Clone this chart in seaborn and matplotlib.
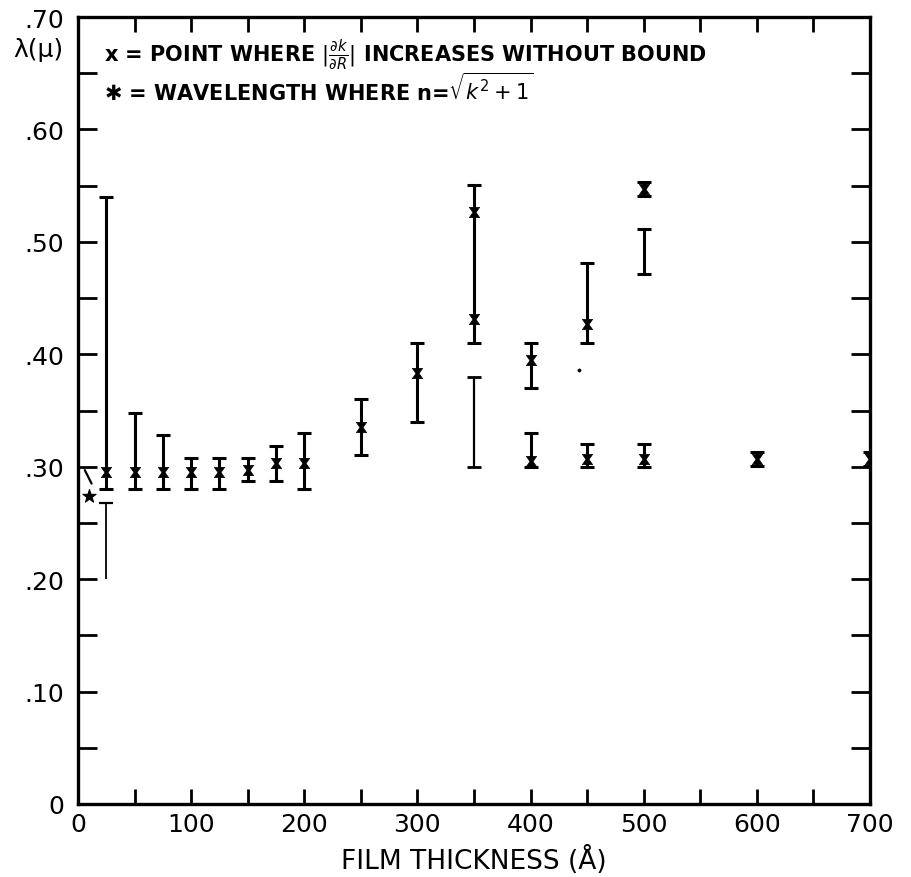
import numpy as np
import pandas as pd
import matplotlib
matplotlib.use("Agg")
import matplotlib.pyplot as plt
from matplotlib.path import Path
import seaborn as sns

# ---- data ----
# points where |dk/dR| increases without bound (x markers)
pt_thick = [25, 50, 75, 100, 125, 150, 175, 200, 250, 300, 350, 350,
            400, 400, 450, 450, 500, 500, 600, 700]
pt_lambda = [0.295, 0.295, 0.295, 0.295, 0.295, 0.297, 0.303, 0.303, 0.335, 0.383,
             0.527, 0.431, 0.395, 0.305, 0.427, 0.307, 0.547, 0.307, 0.307, 0.307]

# error ranges (main bars)
bar_thick = [25, 50, 75, 100, 125, 150, 175, 200, 250, 300, 350,
             400, 400, 450, 450, 500, 500, 500, 600, 700]
bar_low = [0.280, 0.280, 0.280, 0.280, 0.280, 0.287, 0.287, 0.280, 0.310, 0.340, 0.410,
           0.370, 0.300, 0.410, 0.300, 0.471, 0.300, 0.541, 0.301, 0.301]
bar_high = [0.540, 0.348, 0.328, 0.308, 0.308, 0.308, 0.318, 0.330, 0.360, 0.410, 0.551,
            0.410, 0.330, 0.481, 0.320, 0.511, 0.320, 0.553, 0.313, 0.313]

# thin secondary bars
thin_thick = [350]
thin_low = [0.300]
thin_high = [0.380]

# thin bar at 25 Å with top cap only
open_thick = [25]
open_low = [0.200]
open_high = [0.268]

# wavelength where n = sqrt(k^2+1)
star_thick = [10]
star_lambda = [0.274]

# stray dot
dot_thick = [443]
dot_lambda = [0.386]

x_ticks = [0, 100, 200, 300, 400, 500, 600, 700]
y_ticks = [0.0, 0.1, 0.2, 0.3, 0.4, 0.5, 0.6, 0.7]
y_ticklabels = ["0", ".10", ".20", ".30", ".40", ".50", ".60", ".70"]

# ---- figure ----
sns.set_style("ticks")
plt.rcParams['font.family'] = ['DejaVu Sans']
plt.rcParams['text.color'] = 'black'
plt.rcParams['axes.labelcolor'] = 'black'

fig = plt.figure(figsize=(9.11, 8.78), dpi=100)
ax = fig.add_axes([78/911, 1-805/878, (870-78)/911, (805-18)/878])

bars = pd.DataFrame({"t": bar_thick, "lo": bar_low, "hi": bar_high})
ax.errorbar(bars["t"], (bars["lo"] + bars["hi"]) / 2,
            yerr=[(bars["hi"] - bars["lo"]) / 2, (bars["hi"] - bars["lo"]) / 2],
            fmt="none", ecolor="black", elinewidth=2.2, capsize=5, capthick=2.2)
ax.errorbar(thin_thick, [(a + b) / 2 for a, b in zip(thin_low, thin_high)],
            yerr=[[(b - a) / 2 for a, b in zip(thin_low, thin_high)]] * 2,
            fmt="none", ecolor="black", elinewidth=1.6, capsize=5, capthick=2.0)
ax.vlines(open_thick, open_low, open_high, color="black", lw=1.3)
ax.plot(open_thick, open_high, marker="_", ms=10, mew=1.6, color="black", ls="none")

hourglass = Path([(-1, 1), (1, 1), (0.3, 0), (1, -1), (-1, -1), (-0.3, 0), (-1, 1)],
                 [Path.MOVETO, Path.LINETO, Path.LINETO, Path.LINETO, Path.LINETO,
                  Path.LINETO, Path.CLOSEPOLY])
pts = pd.DataFrame({"t": pt_thick, "lam": pt_lambda})
sns.scatterplot(data=pts, x="t", y="lam", ax=ax, marker=hourglass, s=55,
                color="black", edgecolor="black", linewidth=0.5, zorder=5)

sns.scatterplot(x=star_thick, y=star_lambda, ax=ax, marker="*", s=100,
                color="black", edgecolor="black", zorder=5)
ax.plot([6, 12], [0.297, 0.285], color="black", lw=1.6)
sns.scatterplot(x=dot_thick, y=dot_lambda, ax=ax, marker="o", s=6,
                color="black", edgecolor="black")

ax.set_xlim(0, 700)
ax.set_ylim(0, 0.70)
ax.set_xticks(x_ticks)
ax.set_xticks(np.arange(50, 700, 100), minor=True)
ax.set_yticks(y_ticks)
ax.set_yticklabels(y_ticklabels)
ax.set_yticks(np.arange(0.05, 0.70, 0.1), minor=True)

for s in ax.spines.values():
    s.set_linewidth(2.4)
    s.set_color("black")

ax.tick_params(axis="both", which="both", direction="in", top=True, right=True,
               colors="black", width=2.0)
ax.tick_params(axis="y", which="both", length=14)
ax.tick_params(axis="x", which="both", length=11)
ax.tick_params(axis="x", which="major", labelsize=18, pad=6)
ax.tick_params(axis="y", which="major", labelsize=18, pad=10)

ax.set_xlabel("FILM THICKNESS (Å)", fontsize=19, labelpad=6, color="black")
ax.set_ylabel("")
fig.text(38/911, 1-50/878, "λ(μ)", fontsize=18, ha="center", va="center", color="black")

ax.text(0.033, 0.953,
        r"x = POINT WHERE $|\frac{\partial k}{\partial R}|$ INCREASES WITHOUT BOUND",
        transform=ax.transAxes, fontsize=15, fontweight="bold", va="center", color="black")
ax.text(0.033, 0.91,
        r"✱ = WAVELENGTH WHERE n=$\sqrt{k^2+1}$",
        transform=ax.transAxes, fontsize=15, fontweight="bold", va="center", color="black")

ax.grid(False)
fig.savefig("out.png", dpi=100)
